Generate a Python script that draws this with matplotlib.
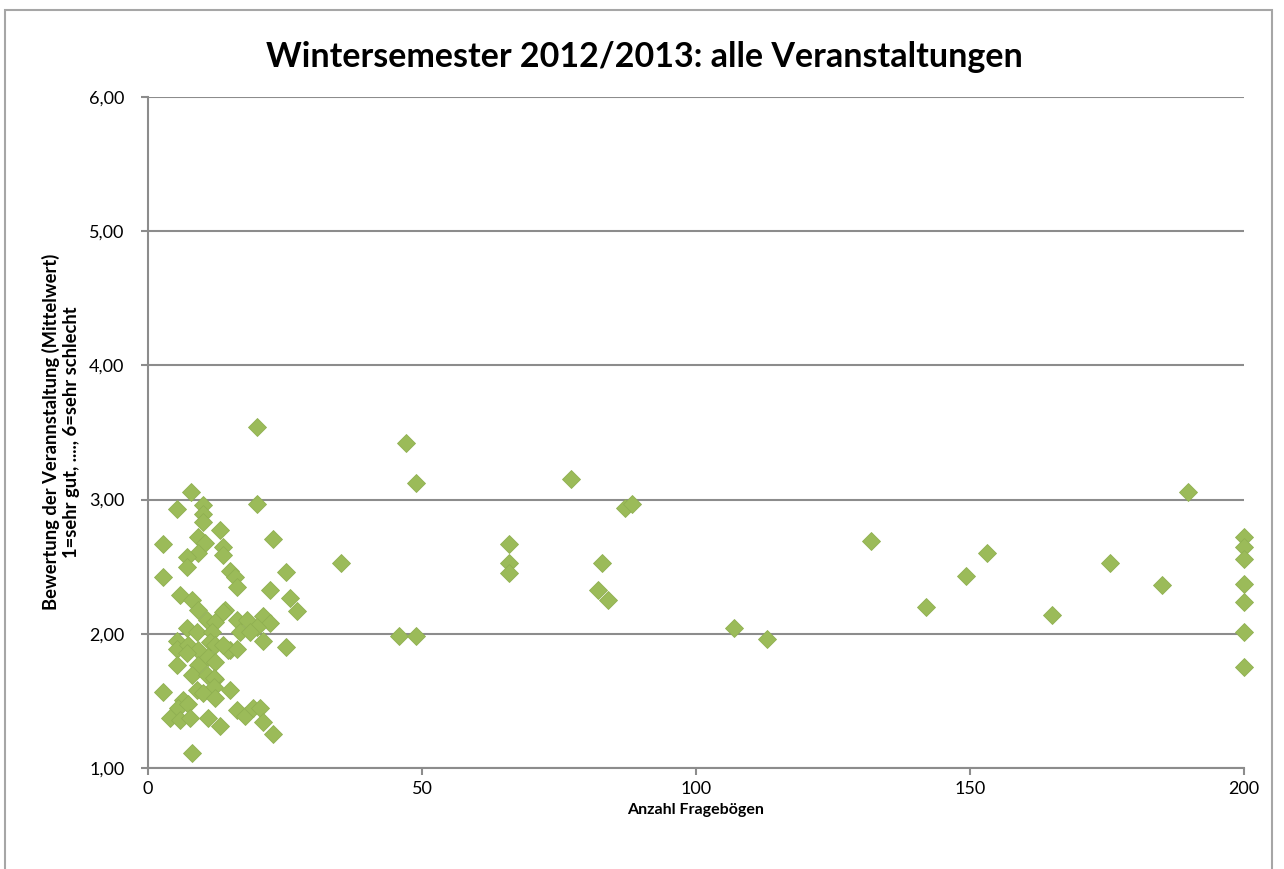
import matplotlib
matplotlib.use("Agg")
import matplotlib.pyplot as plt
from matplotlib.patches import Rectangle

plt.rcParams['font.family'] = ['Lato', 'DejaVu Sans']

# Anzahl Fragebögen (x) and Bewertung (y)
anzahl = [
    19.9, 47.1, 48.9, 77.2, 87.0, 88.3, 35.2, 65.9, 65.9, 65.9,
    82.8, 82.1, 83.9, 45.8, 48.9,
    106.9, 113.0, 131.9, 142.0, 149.3, 153.1, 165.0, 175.6, 185.0, 189.8,
    200, 200, 200, 200, 200, 200, 200,
    7.8, 19.9, 5.3, 10.0, 10.0, 10.0, 13.1, 22.8, 2.7,
    9.1, 10.4, 9.1, 7.1, 13.7, 13.7, 7.1, 2.7, 15.0, 15.8, 16.2, 25.2,
    22.3, 25.9, 27.2, 5.8, 8.0, 9.1, 14.1, 13.7,
    10.8, 12.2, 16.2, 18.1, 21.0, 22.3, 19.9, 16.8, 18.6,
    7.1, 8.9, 11.7, 21.0, 25.2, 15.0,
    5.3, 5.3, 7.3, 9.1, 11.3, 12.2, 14.6, 16.2, 13.7, 7.1,
    5.3, 9.1, 11.0, 12.2, 8.0, 10.8, 12.2, 12.0, 12.0,
    2.7, 8.9, 10.0, 12.2, 15.0, 6.4, 5.5, 7.3,
    16.2, 17.7, 19.2, 20.4,
    4.0, 5.8, 7.7, 11.0, 13.1, 21.0, 22.8, 8.0,
]
bewertung = [
    3.54, 3.42, 3.12, 3.15, 2.94, 2.97, 2.53, 2.67, 2.53, 2.45,
    2.53, 2.33, 2.25, 1.98, 1.98,
    2.04, 1.96, 2.69, 2.20, 2.43, 2.60, 2.14, 2.53, 2.36, 3.06,
    2.72, 2.65, 2.56, 2.37, 2.24, 2.01, 1.75,
    3.06, 2.97, 2.93, 2.96, 2.89, 2.83, 2.77, 2.71, 2.67,
    2.72, 2.68, 2.60, 2.57, 2.65, 2.59, 2.50, 2.42, 2.47, 2.42, 2.35, 2.46,
    2.33, 2.27, 2.17, 2.29, 2.25, 2.18, 2.18, 2.16,
    2.10, 2.09, 2.10, 2.10, 2.13, 2.08, 2.05, 2.01, 2.01,
    2.04, 2.01, 2.01, 1.95, 1.90, 1.88,
    1.95, 1.89, 1.92, 1.88, 1.94, 1.92, 1.88, 1.89, 1.92, 1.86,
    1.77, 1.77, 1.83, 1.79, 1.69, 1.69, 1.66, 1.67, 1.60,
    1.57, 1.58, 1.56, 1.52, 1.58, 1.51, 1.45, 1.48,
    1.43, 1.39, 1.45, 1.45,
    1.37, 1.36, 1.37, 1.37, 1.31, 1.34, 1.25, 1.11,
]

x_ticks = [0, 50, 100, 150, 200]
y_ticks = [1, 2, 3, 4, 5, 6]
y_ticklabels = ["1,00", "2,00", "3,00", "4,00", "5,00", "6,00"]

W, H = 1284, 869
fig = plt.figure(figsize=(W / 100, H / 100), dpi=100)
ax = fig.add_axes([148 / W, 1 - 768 / H, (1244 - 148) / W, (768 - 97) / H])

grid_c = '#8c8c8c'
ax.set_xlim(0, 200)
ax.set_ylim(1, 6)
ax.set_xticks(x_ticks)
ax.set_yticks(y_ticks)
ax.set_yticklabels(y_ticklabels)
ax.yaxis.grid(True, color=grid_c, linewidth=1.5)
ax.set_axisbelow(True)
for s in ['top', 'right']:
    ax.spines[s].set_visible(False)
for s in ['left', 'bottom']:
    ax.spines[s].set_color(grid_c)
    ax.spines[s].set_linewidth(1.5)
ax.tick_params(axis='both', colors=grid_c, length=5, width=1.5, direction='out',
               labelcolor='black', labelsize=13)
ax.tick_params(axis='y', pad=12)
ax.tick_params(axis='x', pad=4)

ax.plot(anzahl, bewertung, linestyle='none', marker='D', markersize=9,
        markerfacecolor='#9BBB59', markeredgecolor='#90b052', markeredgewidth=0.6,
        clip_on=False, zorder=3)

fig.text((262 + 1027) / 2 / W, 1 - 57 / H, "Wintersemester 2012/2013: alle Veranstaltungen",
         ha='center', va='center', fontsize=24.5, fontweight='bold')
fig.text(696 / W, 1 - 810 / H, "Anzahl Fragebögen", ha='center', va='center',
         fontsize=11.5, fontweight='bold')
fig.text(61 / W, 1 - 432 / H,
         "Bewertung der Verannstaltung (Mittelwert)\n1=sehr gut, ...., 6=sehr schlecht",
         ha='center', va='center', rotation=90, fontsize=13.2, fontweight='bold',
         linespacing=1.2)

fig.patches.append(Rectangle((5 / W, -0.05), (1272 - 5) / W, 1.05 - 10 / H,
                             transform=fig.transFigure, fill=False,
                             edgecolor='#a6a6a6', linewidth=1.5))

fig.savefig("out.png", dpi=100)
